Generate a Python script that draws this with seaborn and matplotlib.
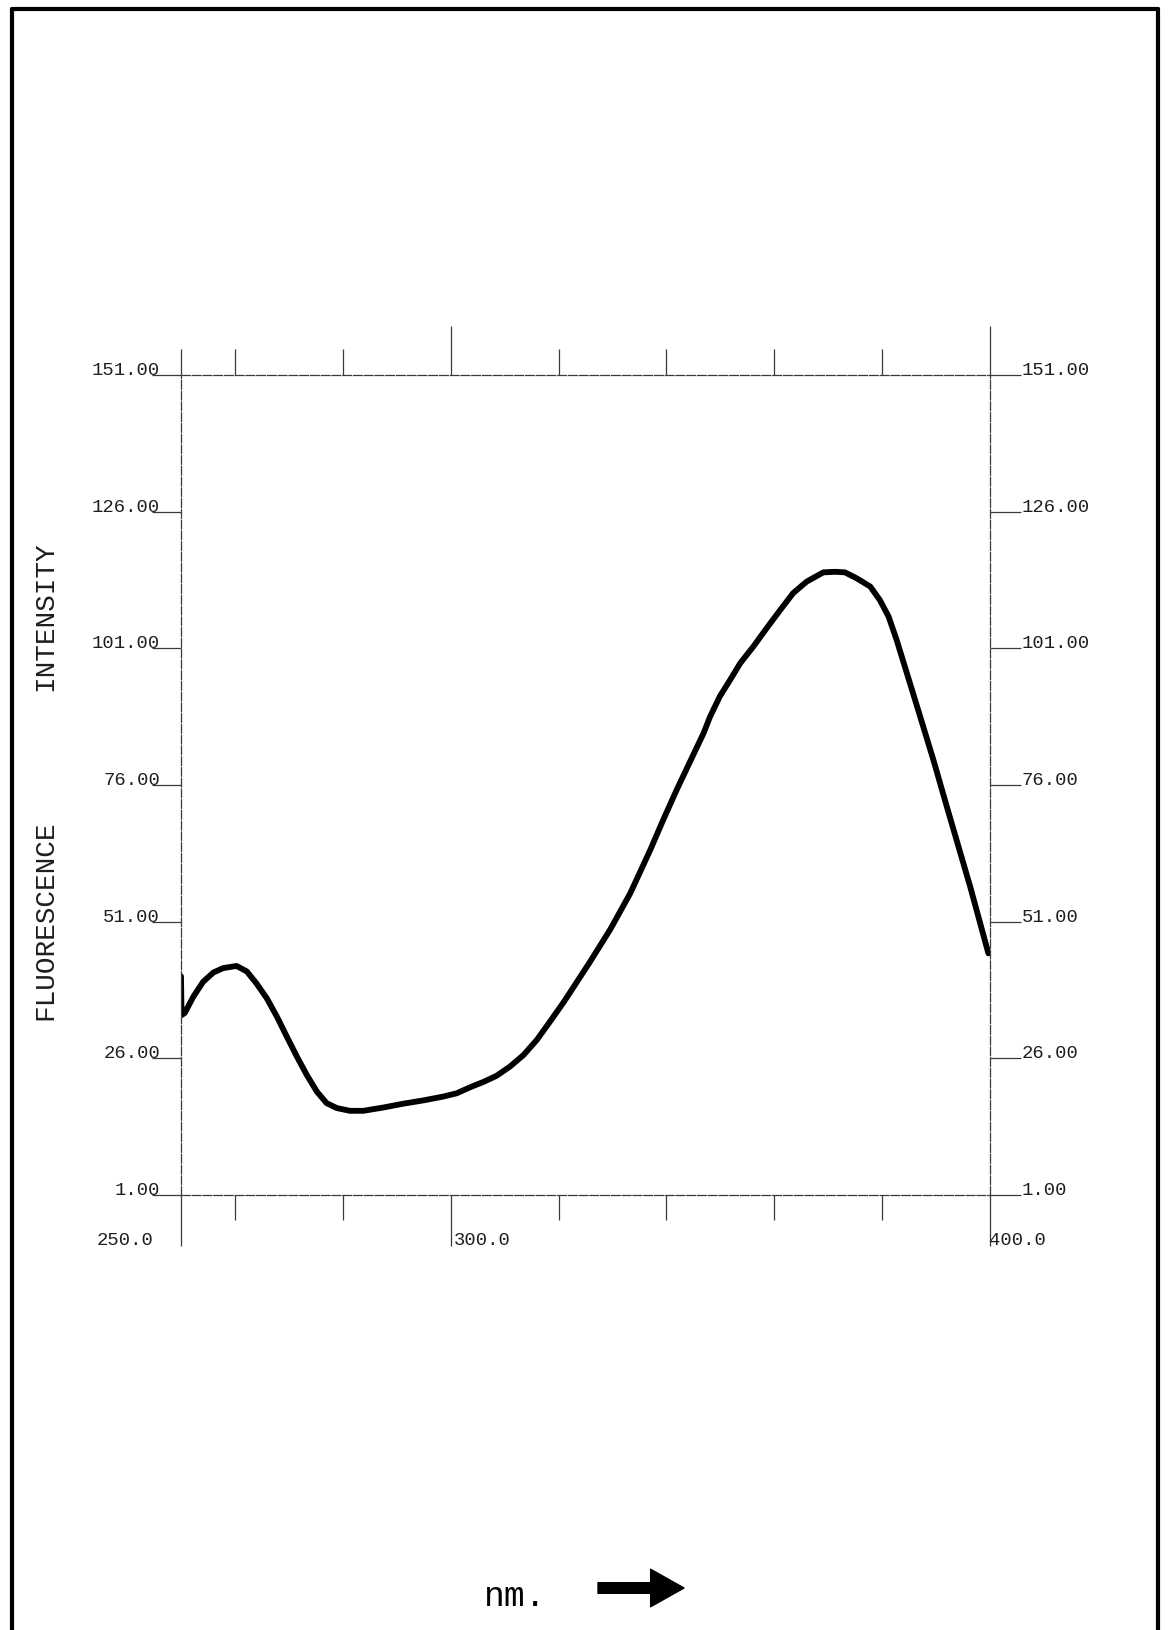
import numpy as np
import pandas as pd
import matplotlib
matplotlib.use("Agg")
import matplotlib.pyplot as plt
import seaborn as sns
from matplotlib.lines import Line2D

# ---------------- data ----------------
wavelength_nm = [250.0, 250.1, 250.7, 252.3, 254.1, 256.0, 257.8, 260.3, 262.2, 264.0,
                 265.9, 267.8, 269.6, 271.5, 273.3, 275.2, 277.0, 278.9, 281.3, 283.8,
                 287.5, 291.2, 294.9, 298.6, 301.1, 303.6, 306.1, 308.5, 311.0, 313.5,
                 316.0, 318.4, 320.9, 322.1, 325.8, 329.6, 333.3, 337.0, 339.4, 341.9,
                 344.4, 346.9, 348.1, 349.9, 351.8, 353.7, 356.1, 358.6, 361.1, 363.5,
                 366.0, 369.1, 371.3, 373.1, 375.3, 377.8, 379.6, 381.2, 382.7, 386.1,
                 389.5, 392.3, 396.3, 399.7]
intensity = [41.0, 33.9, 34.3, 37.3, 40.0, 41.7, 42.5, 42.9, 41.9, 39.7,
             37.0, 33.6, 30.0, 26.3, 23.0, 19.9, 17.8, 16.9, 16.4, 16.4,
             17.0, 17.7, 18.3, 19.0, 19.6, 20.7, 21.7, 22.8, 24.5, 26.6,
             29.4, 32.7, 36.2, 38.0, 43.6, 49.6, 56.2, 64.1, 69.6, 75.1,
             80.3, 85.5, 88.5, 92.2, 95.2, 98.3, 101.3, 104.7, 108.0, 111.1,
             113.2, 114.9, 115.0, 114.9, 113.8, 112.3, 109.8, 106.8, 102.5, 91.6,
             80.6, 71.0, 57.5, 45.2]

y_ticks = [1, 26, 51, 76, 101, 126, 151]
y_tick_labels = ["1.00", "26.00", "51.00", "76.00", "101.00", "126.00", "151.00"]
x_major_ticks = [250, 300, 400]
x_major_labels = ["250.0", "300.0", "400.0"]
x_minor_ticks = [260, 280, 320, 340, 360, 380]
x_top_major = [300, 400]
x_top_minor = [250, 260, 280, 320, 340, 360, 380]
y_title_parts = ["INTENSITY", "FLUORESCENCE"]
x_unit = "nm."

# ---------------- style ----------------
sns.set_theme(style="white")
plt.rcParams["font.family"] = ["Liberation Mono", "DejaVu Sans Mono"]
INK = "#1e1e1e"
AX = "#3a3a3a"
DASH = (0, (7, 1.6))

W, H = 1171, 1630
fig = plt.figure(figsize=(W / 100, H / 100), dpi=100)
fig.patch.set_facecolor("white")
L, R, T, B = 181, 990, 375, 1195
ax = fig.add_axes([L / W, 1 - B / H, (R - L) / W, (B - T) / H])
ax.set_facecolor("white")

df = pd.DataFrame({"nm": wavelength_nm, "I": intensity})
sns.lineplot(data=df, x="nm", y="I", ax=ax, color="black", linewidth=4.2,
             estimator=None, sort=False, solid_capstyle="round",
             solid_joinstyle="round")
ax.set_xlim(250, 400)
ax.set_ylim(1, 151)
ax.set_xlabel("")
ax.set_ylabel("")

for s in ax.spines.values():
    s.set_visible(True)
    s.set_color(AX)
    s.set_linewidth(0.9)
    s.set_linestyle(DASH)

# bottom x ticks
ax.set_xticks(x_major_ticks)
ax.set_xticks(x_minor_ticks, minor=True)
ax.set_xticklabels([])
ax.tick_params(axis="x", which="major", bottom=True, top=False, direction="out",
               length=37, width=0.9, color=AX)
ax.tick_params(axis="x", which="minor", bottom=True, top=False, direction="out",
               length=18, width=0.9, color=AX)

# top x ticks
sec = ax.secondary_xaxis("top")
sec.set_xticks(x_top_major)
sec.set_xticks(x_top_minor, minor=True)
sec.set_xticklabels([])
sec.tick_params(axis="x", which="major", direction="out", length=35, width=0.9, color=AX)
sec.tick_params(axis="x", which="minor", direction="out", length=19, width=0.9, color=AX)
sec.spines["top"].set_visible(False)

# left y ticks + labels
ax.set_yticks(y_ticks)
ax.set_yticklabels(y_tick_labels)
ax.tick_params(axis="y", which="major", left=True, right=False, direction="out",
               length=21, width=0.9, color=AX, pad=-6, labelsize=13.6, labelcolor=INK)
for lab in ax.get_yticklabels():
    lab.set_verticalalignment("baseline")

# right y ticks + labels
secy = ax.secondary_yaxis("right")
secy.set_yticks(y_ticks)
secy.set_yticklabels(y_tick_labels)
secy.tick_params(axis="y", direction="out", length=22, width=0.9, color=AX, pad=1,
                 labelsize=13.6, labelcolor=INK)
secy.spines["right"].set_visible(False)
for lab in secy.get_yticklabels():
    lab.set_verticalalignment("baseline")

# x tick labels (plotter style alignment)
offsets = {250: (-27, "right"), 300: (3, "left"), 400: (-1, "left")}
for val, txt in zip(x_major_ticks, x_major_labels):
    dx, ha = offsets[val]
    ax.annotate(txt, xy=(val, 0), xycoords=("data", "axes fraction"),
                xytext=(dx * 0.72, -33), textcoords="offset points",
                ha=ha, va="center", fontsize=13.6, color=INK,
                annotation_clip=False)

# y titles
fig.text(45 / W, 1 - 616 / H, y_title_parts[0], rotation=90, ha="center",
         va="center", fontsize=20, color=INK)
fig.text(45 / W, 1 - 920 / H, y_title_parts[1], rotation=90, ha="center",
         va="center", fontsize=20, color=INK)

# unit + arrow
fig.text(515 / W, 1 - 1596 / H, x_unit, ha="center", va="center", fontsize=25,
         color="black")
ya = 1 - 1588 / H
fig.patches.append(matplotlib.patches.FancyArrowPatch(
    (598 / W, ya), (684 / W, ya), transform=fig.transFigure,
    arrowstyle="simple,head_length=1.2,head_width=1.35,tail_width=0.38",
    mutation_scale=20, color="black", shrinkA=0, shrinkB=0))

# page frame
fx0, fx1 = 12 / W, 1158 / W
fy1 = 1 - 9 / H
fig.add_artist(Line2D([fx0, fx0], [0, fy1], transform=fig.transFigure, color="black", lw=3))
fig.add_artist(Line2D([fx1, fx1], [0, fy1], transform=fig.transFigure, color="black", lw=3))
fig.add_artist(Line2D([fx0, fx1], [fy1, fy1], transform=fig.transFigure, color="black", lw=3))

fig.savefig("out.png", dpi=100, facecolor="white")
